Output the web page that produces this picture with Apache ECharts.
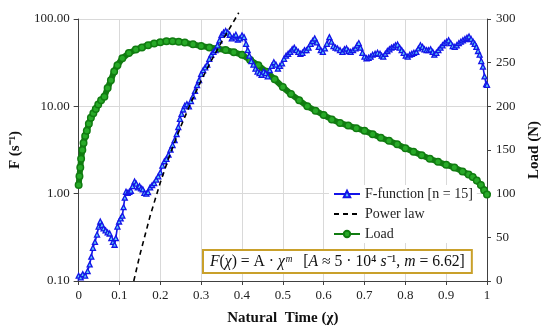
<!DOCTYPE html>
<html>
<head>
<meta charset="utf-8">
<script src="https://cdn.jsdelivr.net/npm/echarts@6/dist/echarts.min.js"></script>
<style>
html,body{margin:0;padding:0;background:#fff;}
#chart{width:550px;height:333px;}
</style>
</head>
<body>
<div id="chart"></div>
<script>
// ---- Data ----
var xTicks = ['0','0.1','0.2','0.3','0.4','0.5','0.6','0.7','0.8','0.9','1'];
var fTicks = ['0.10','1.00','10.00','100.00'];
var loadTicks = ['0','50','100','150','200','250','300'];

// F-function [n = 15]
var fX = [0.000,0.005,0.010,0.016,0.022,0.027,0.031,0.035,0.040,0.045,0.049,0.053,0.057,0.061,0.066,0.071,0.076,0.080,0.084,0.088,0.091,0.095,0.099,0.103,0.107,0.110,0.113,0.116,0.120,0.124,0.128,0.132,0.137,0.141,0.145,0.149,0.153,0.157,0.161,0.166,0.170,0.175,0.180,0.185,0.190,0.195,0.200,0.205,0.210,0.215,0.220,0.225,0.230,0.235,0.240,0.244,0.248,0.252,0.256,0.260,0.265,0.270,0.275,0.280,0.285,0.290,0.295,0.300,0.305,0.310,0.315,0.320,0.325,0.330,0.335,0.340,0.345,0.350,0.355,0.360,0.365,0.370,0.375,0.380,0.385,0.390,0.395,0.400,0.405,0.410,0.414,0.418,0.423,0.428,0.433,0.438,0.443,0.448,0.453,0.458,0.463,0.468,0.473,0.478,0.483,0.488,0.493,0.498,0.503,0.508,0.513,0.518,0.523,0.528,0.533,0.538,0.543,0.548,0.553,0.558,0.563,0.568,0.573,0.578,0.583,0.588,0.593,0.598,0.603,0.608,0.614,0.619,0.624,0.629,0.634,0.640,0.646,0.651,0.656,0.661,0.666,0.672,0.678,0.682,0.686,0.690,0.695,0.700,0.705,0.710,0.715,0.720,0.726,0.732,0.738,0.742,0.746,0.751,0.756,0.761,0.766,0.771,0.776,0.781,0.786,0.791,0.796,0.801,0.806,0.811,0.816,0.821,0.827,0.832,0.837,0.842,0.847,0.852,0.857,0.862,0.867,0.871,0.876,0.881,0.886,0.891,0.896,0.901,0.906,0.911,0.916,0.921,0.926,0.931,0.936,0.941,0.946,0.951,0.956,0.961,0.966,0.970,0.974,0.978,0.982,0.986,0.990,0.994,0.998,1.000];
var fVal = [0.115,0.11,0.12,0.115,0.13,0.155,0.19,0.24,0.28,0.34,0.42,0.48,0.44,0.40,0.38,0.36,0.35,0.31,0.28,0.26,0.31,0.42,0.48,0.52,0.56,0.70,0.90,1.05,1.02,1.05,1.08,1.22,1.38,1.30,1.18,1.22,1.15,1.12,1.02,1.00,1.04,1.18,1.25,1.32,1.45,1.58,1.75,2.1,2.35,2.5,2.8,3.2,3.6,4.1,4.8,5.8,7.2,8.2,9.2,10.2,10.6,10.0,11.5,13.0,15.0,17.5,20.0,23.5,26,28,30,35,39,42,44,50,57,66,70,73,70,66,60,63,66,58,60,65,62,52,44,38,33,30,27,25,24,23,25,24,22,26,29,32,30,27,29,31,35,38,40,42,45,47,44,42,40,41,44,44,47,52,56,60,54,48,44,42,46,52,62,55,49,47,46,44,42,45,46,43,42,44,46,50,53,47,41,37,35.5,36,37,39,40,41,40,38,37,40,43,45,47,48,50,51,47,44,41,38,37,39,40,41,42,46,50,48,45,44,44,45,42,39,41,44,47,50,53,55,57,53,49,48,50,53,55,57,59,61,63,59,55,52,48,43,39,33,28.5,22,18,17.6];

// Power law (dashed)
var powX = [0.135,0.150,0.175,0.200,0.225,0.250,0.275,0.300,0.325,0.350,0.375,0.392];
var powVal = [0.10,0.20,0.555,1.345,2.93,5.87,11.06,19.7,33.5,54.6,86.2,118];

// Load (N)
var loadX = [0.000,0.002,0.004,0.006,0.009,0.012,0.016,0.020,0.025,0.030,0.036,0.042,0.048,0.055,0.063,0.071,0.079,0.087,0.095,0.107,0.123,0.140,0.155,0.170,0.185,0.200,0.215,0.230,0.245,0.260,0.280,0.300,0.320,0.340,0.360,0.380,0.400,0.420,0.440,0.460,0.480,0.500,0.520,0.540,0.560,0.580,0.600,0.620,0.640,0.660,0.680,0.700,0.720,0.740,0.760,0.780,0.800,0.820,0.840,0.860,0.880,0.900,0.920,0.940,0.955,0.965,0.975,0.985,0.993,1.000];
var loadVal = [110,120,130,140,150,158,166,172,180,187,192,197,202,207,211,221,230,240,247,255,261,265,267.5,270,272,273.5,274.5,274.5,274,273,271,269,267.5,266,264.5,262,259,253,247,239.5,231,222,214,207,200,195,190,185,181,178,175,172,168,164,160.5,156.5,152,148,144,140,136.5,133,130,125.5,122,119,115,110,104,99];

var FONT = 'Liberation Serif';
function pairs(xs, ys){ return xs.map(function(x,i){ return [x, ys[i]]; }); }

var chart = echarts.init(document.getElementById('chart'), null, {renderer:'canvas'});
chart.setOption({
  animation: false,
  backgroundColor: '#fff',
  grid: {left: 76, right: 59, top: 19, bottom: 52, containLabel: false},
  xAxis: {
    type: 'value', min: 0, max: 1, interval: 0.1,
    name: 'Natural  Time (\u03C7)', nameLocation: 'middle', nameGap: 30,
    nameTextStyle: {fontFamily: FONT, fontWeight: 'bold', fontSize: 15, color: '#111'},
    axisLine: {show: true, lineStyle: {color: '#404040', width: 1}},
    axisTick: {show: true, inside: false, length: 4, lineStyle: {color: '#404040'}},
    axisLabel: {fontFamily: FONT, fontSize: 13, color: '#222', margin: 8,
      formatter: function(v){ return xTicks[Math.round(v*10)]; }},
    splitLine: {show: true, lineStyle: {color: '#D9D9D9', width: 1}}
  },
  yAxis: [{
    type: 'log', logBase: 10, min: 0.1, max: 100,
    name: 'F (s\u207B\u00B9)', nameLocation: 'middle', nameGap: 52, nameRotate: 90,
    nameTextStyle: {fontFamily: FONT, fontWeight: 'bold', fontSize: 15, color: '#111'},
    axisLine: {show: true, lineStyle: {color: '#404040', width: 1}},
    axisTick: {show: true, inside: false, length: 5, lineStyle: {color: '#404040'}},
    axisLabel: {fontFamily: FONT, fontSize: 13, color: '#222', margin: 9,
      formatter: function(v){ var k = Math.round(Math.log10(v)) + 1; return fTicks[k]; }},
    splitLine: {show: true, lineStyle: {color: '#D9D9D9', width: 1}}
  }, {
    type: 'value', min: 0, max: 300, interval: 50, position: 'right',
    name: 'Load (N)', nameLocation: 'middle', nameGap: 40, nameRotate: 90,
    nameTextStyle: {fontFamily: FONT, fontWeight: 'bold', fontSize: 15, color: '#111'},
    axisLine: {show: true, lineStyle: {color: '#404040', width: 1}},
    axisTick: {show: true, inside: false, length: 4, lineStyle: {color: '#404040'}},
    axisLabel: {fontFamily: FONT, fontSize: 13, color: '#222', margin: 9,
      formatter: function(v){ return loadTicks[Math.round(v/50)]; }},
    splitLine: {show: false}
  }],
  legend: {
    orient: 'vertical', left: 329, top: 185,
    backgroundColor: '#fff', padding: [2, 4, 2, 4],
    itemWidth: 26, itemHeight: 8, itemGap: 6,
    textStyle: {fontFamily: FONT, fontSize: 14, color: '#222'},
    data: [
      {name: 'F-function [n = 15]'},
      {name: 'Power law', itemStyle: {color: 'rgba(0,0,0,0)', borderColor: 'rgba(0,0,0,0)', borderWidth: 0}},
      {name: 'Load'}
    ]
  },
  series: [{
    name: 'Load', type: 'line', yAxisIndex: 1, z: 2,
    data: pairs(loadX, loadVal),
    symbol: 'circle', symbolSize: 6.5, showSymbol: true,
    lineStyle: {color: '#117C11', width: 6},
    itemStyle: {color: '#28AA28', borderColor: '#117C11', borderWidth: 1.5}
  }, {
    name: 'F-function [n = 15]', type: 'line', yAxisIndex: 0, z: 3,
    data: pairs(fX, fVal),
    symbol: 'triangle', symbolSize: 5, showSymbol: true,
    lineStyle: {color: '#1414E8', width: 1.6},
    itemStyle: {color: '#5EC8F5', borderColor: '#1414E8', borderWidth: 1.3}
  }, {
    name: 'Power law', type: 'line', yAxisIndex: 0, z: 4,
    data: pairs(powX, powVal), clip: false,
    symbol: 'none', showSymbol: false, smooth: false,
    lineStyle: {color: '#000', width: 1.6, type: [5, 4]},
    itemStyle: {color: '#000'}
  }],
  graphic: [{
    type: 'text', left: 202, top: 249, z: 100,
    style: {
      text: '{i|F}{n|(}{i|\u03C7}{n|) = A \u00B7 }{i|\u03C7\u1D50}{n|   [}{i|A}{n| \u2248 5 \u00B7 10\u2074 }{i|s}{n|\u207B\u00B9, }{i|m}{n| = 6.62]}',
      rich: {
        i: {fontFamily: FONT, fontStyle: 'italic', fontSize: 15.7, fill: '#111'},
        n: {fontFamily: FONT, fontSize: 15.7, fill: '#111'}
      },
      backgroundColor: '#fff',
      borderColor: '#C9A02A', borderWidth: 2,
      padding: [3, 6, 2, 6]
    }
  }]
});
</script>
</body>
</html>
